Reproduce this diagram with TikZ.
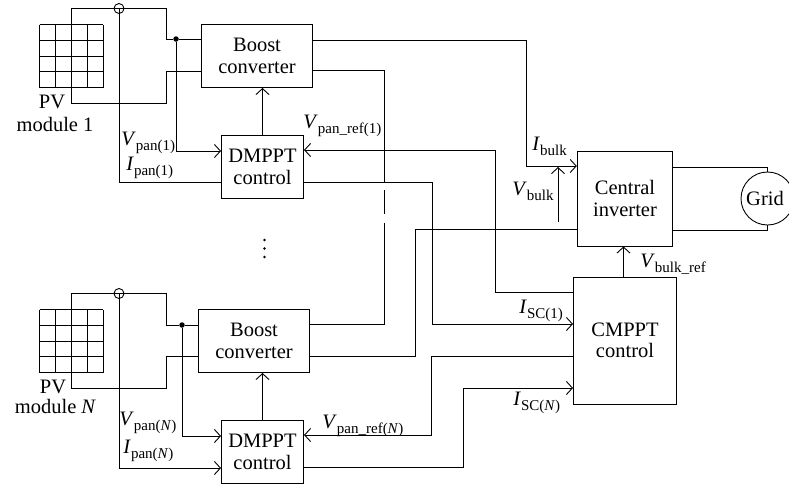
\documentclass[tikz,border=0pt]{standalone}
\usepackage{fontspec}
\setmainfont{Liberation Serif}
\usetikzlibrary{arrows.meta}
\tikzset{blockbox/.style={draw,align=center,inner sep=0pt,font=\fontsize{20.5}{21.5}\selectfont},
    wire/.style={draw,line width=0.9pt},
    sig/.style={wire,-{Straight Barb[length=6pt,width=13pt,line width=0.9pt]}},
    lab/.style={inner sep=0pt,anchor=base west,font=\fontsize{20.5}{21.5}\selectfont},
    modlab/.style={inner sep=0pt,anchor=base,font=\fontsize{20.5}{21.5}\selectfont},
    junction/.style={circle,fill,inner sep=0pt,minimum size=5.5pt},
    vdot/.style={circle,fill,inner sep=0pt,minimum size=2.6pt},
    probe/.style={circle,draw,line width=0.9pt,inner sep=0pt,minimum size=10pt}}
\newcommand{\vsub}[2]{\textit{#1}\raisebox{-5pt}{\fontsize{15}{17}\selectfont #2}}
\begin{document}
\begin{tikzpicture}[x=1pt,y=-1pt,line width=0.9pt]
    \useasboundingbox (0,0) rectangle (789,485);
    % pv panels
    \foreach \x in {39.5,55.5,71.5,87,103} {
        \draw (\x,24.5) -- (\x,87.5);
        \draw (\x,309.5) -- (\x,372.7);
    }
    \foreach \y in {24.5,40,56,71.5,87.5} {
        \draw (39.5,\y) -- (103,\y);
        \draw (39.5,\y+285) -- (103,\y+285);
    }
    \node[modlab] (pva) at (52,108) {PV};
    \node[modlab] (pvb) at (55,131) {module 1};
    \node[modlab] (pvc) at (53,393) {PV};
    \node[modlab] (pvd) at (55.5,413) {module \textit{N}};
    % blocks
    \node[blockbox,minimum width=111pt,minimum height=63pt] (boosta) at (257,56) {Boost\\converter};
    \node[blockbox,minimum width=82pt,minimum height=63pt] (dmppta) at (262.5,167) {DMPPT\\control};
    \node[blockbox,minimum width=111pt,minimum height=63pt] (boostb) at (254,341) {Boost\\converter};
    \node[blockbox,minimum width=82pt,minimum height=63.5pt] (dmpptb) at (262.5,452) {DMPPT\\control};
    \node[blockbox,minimum width=95.5pt,minimum height=95pt] (inv) at (625,198.5) {Central\\inverter};
    \node[blockbox,minimum width=103pt,minimum height=127pt] (cmppt) at (625,340.5) {CMPPT\\control};
    \node[blockbox,circle,minimum size=53pt] (grid) at (767.5,198.5) {Grid\hspace{5pt}};
    % module 1 wiring
    \node[probe] (proba) at (119,8.5) {};
    \node[junction] (junca) at (176,39) {};
    \draw[wire] (71.5,24.5) |- (166,8.5) |- (junca) -- (junca -| boosta.west);
    \draw[wire] (71.5,87.5) |- (166,103.5) |- (boosta.west |- 0,71);
    \draw[sig] (junca) |- (dmppta.west |- 0,151);
    \draw[wire] (proba.center) |- (dmppta.west |- 0,182.5);
    \draw[sig] (dmppta.north) -- (dmppta.north |- boosta.south);
    % module N wiring
    \node[probe] (probb) at (119,293.5) {};
    \node[junction] (juncb) at (182,325) {};
    \draw[wire] (71.5,309.5) |- (166,293.5) |- (juncb) -- (juncb -| boostb.west);
    \draw[wire] (71.5,372.5) |- (166,388.5) |- (boostb.west |- 0,356.5);
    \draw[sig] (juncb) |- (dmpptb.west |- 0,436);
    \draw[sig] (probb.center) |- (dmpptb.west |- 0,468);
    \draw[sig] (dmpptb.north) -- (dmpptb.north |- boostb.south);
    % bus to inverter and cmppt
    \draw[sig] (boosta.east |- 0,40) -| (526,166) -- (inv.west |- 0,166);
    \draw[wire] (boosta.east |- 0,70.5) -| (384,182);
    \draw[wire] (384,190) -- (384,214);
    \draw[wire] (384,223) -- (384,324) -- (boostb.east |- 0,324);
    \draw[sig] (cmppt.west |- 0,292) -| (495,150) -- (dmppta.east |- 0,150);
    \draw[sig] (dmppta.east |- 0,182) -| (432,324) -- (cmppt.west |- 0,324);
    \draw[wire] (inv.west |- 0,229) -| (415,356) -- (boostb.east |- 0,356);
    \draw[sig] (cmppt.west |- 0,356) -| (431,435) -- (dmpptb.east |- 0,435);
    \draw[sig] (dmpptb.east |- 0,467) -| (463,388) -- (cmppt.west |- 0,388);
    \draw[sig] (558,222) -- (558,167);
    \draw[sig] ([xshift=-1.5pt]cmppt.north) -- ([xshift=-1.5pt]cmppt.north |- inv.south);
    \draw[wire] (inv.east |- 0,167) -| (grid.north);
    \draw[wire] (inv.east |- 0,230) -| (grid.south);
    % labels
    \node[lab] (vpa) at (121,145) {\vsub{V}{pan(1)}};
    \node[lab] (ipa) at (126,170) {\vsub{I}{pan(1)}};
    \node[lab] (vra) at (303,128) {\vsub{V}{pan\_ref(1)}};
    \node[lab] (vpb) at (119,425) {\vsub{V}{pan(\textit{N})}};
    \node[lab] (ipb) at (123,453) {\vsub{I}{pan(\textit{N})}};
    \node[lab] (vrb) at (322,428) {\vsub{V}{pan\_ref(\textit{N})}};
    \node[lab] (ib) at (532,150) {\vsub{I}{bulk}};
    \node[lab] (vb) at (512,195) {\vsub{V}{bulk}};
    \node[lab] (vbr) at (640,267) {\vsub{V}{bulk\_ref}};
    \node[lab] (isa) at (519,313) {\vsub{I}{SC(1)}};
    \node[lab] (isb) at (513,405) {\vsub{I}{SC(\textit{N})}};
    \node[vdot] (dota) at (264.5,240) {};
    \node[vdot] (dotb) at (264.5,248.5) {};
    \node[vdot] (dotc) at (264.5,257) {};
\end{tikzpicture}
\end{document}
